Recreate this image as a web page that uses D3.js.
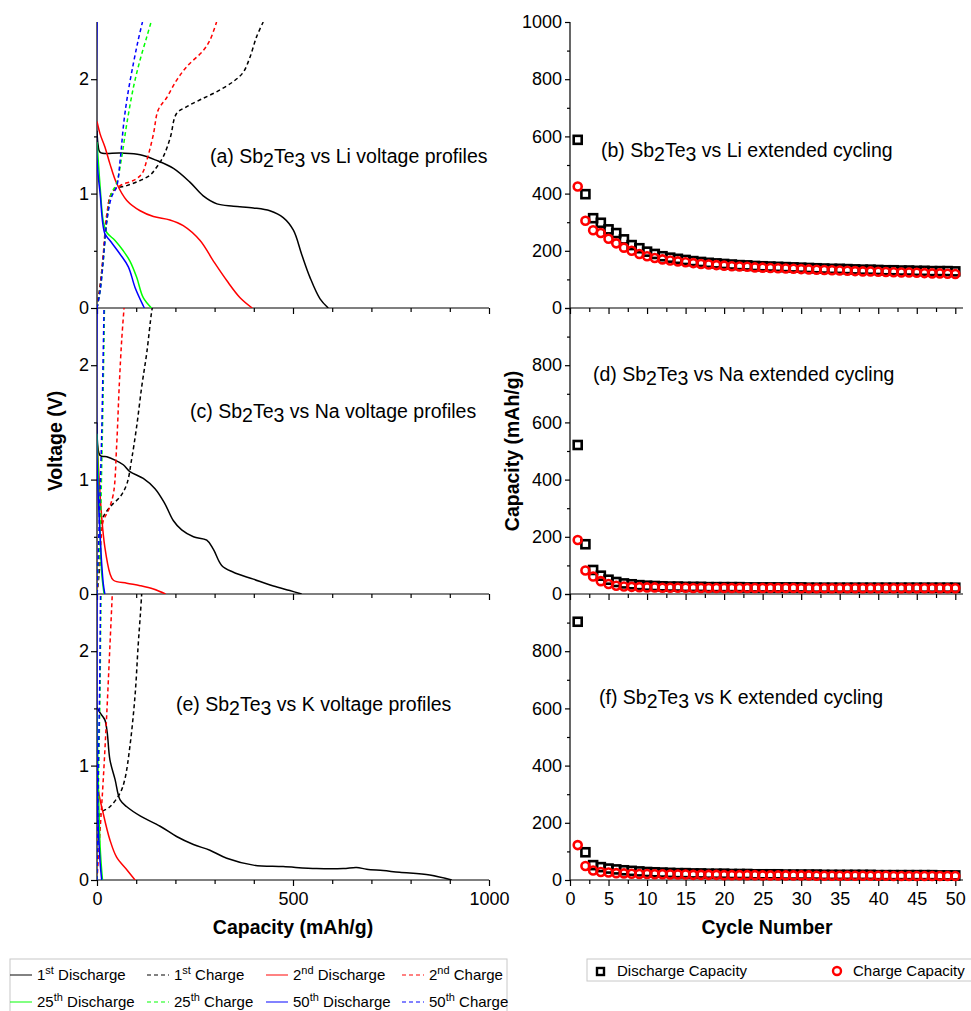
<!DOCTYPE html>
<html>
<head>
<meta charset="utf-8">
<title>Sb2Te3 voltage profiles and cycling</title>
<script src="https://d3js.org/d3.v7.min.js"></script>
<style>
  body { margin: 0; background: #fff; }
  svg { font-family: "Liberation Sans", Arial, sans-serif; }
  .tick text { font-size: 18px; fill: #000; }
  .axis path, .axis line { stroke: #000; stroke-width: 1.2; }
  .title { font-size: 19.5px; font-weight: bold; }
  .note { font-size: 19.5px; }
  .leg { font-size: 15px; }
</style>
</head>
<body>
<svg id="chart" width="971" height="1011"></svg>
<script>
// ---- voltage profiles: [capacity mAh/g, voltage V] ----
// Li
const li1Dis = [[0,1.55],[3,1.42],[8,1.36],[59,1.355],[110,1.34],[152,1.29],[195,1.22],[237,1.1],[271,0.98],[306,0.91],[348,0.89],[399,0.875],[441,0.85],[475,0.79],[501,0.68],[522,0.47],[543,0.27],[569,0.08],[590,0]];
const li1Chg = [[0,0],[8,0.2],[16,0.45],[25,0.78],[33,0.97],[46,1.04],[76,1.07],[110,1.115],[135,1.16],[152,1.23],[170,1.33],[187,1.49],[203,1.7],[229,1.76],[263,1.82],[305,1.89],[348,1.98],[373,2.06],[390,2.19],[407,2.37],[424,2.5]];
const li2Dis = [[0,1.63],[8,1.52],[20,1.41],[33,1.26],[50,1.09],[76,0.94],[110,0.85],[144,0.8],[186,0.77],[220,0.72],[263,0.59],[297,0.41],[331,0.24],[365,0.09],[396,0]];
const li2Chg = [[0,0],[8,0.18],[16,0.47],[25,0.82],[37,1.0],[59,1.07],[93,1.115],[114,1.17],[127,1.29],[144,1.52],[156,1.73],[178,1.84],[203,1.99],[229,2.11],[271,2.25],[288,2.34],[305,2.5]];
const li25Dis = [[0,1.45],[8,1.06],[16,0.76],[25,0.66],[46,0.59],[67,0.5],[84,0.41],[101,0.27],[118,0.09],[139,0]];
const li25Chg = [[0,0],[8,0.15],[16,0.41],[25,0.76],[37,1.0],[50,1.09],[63,1.32],[76,1.61],[93,1.93],[110,2.17],[127,2.37],[138,2.5]];
const li50Dis = [[0,2.5],[0,1.3],[8,1.0],[20,0.65],[33,0.59],[59,0.47],[80,0.36],[97,0.18],[118,0.02],[121,0]];
const li50Chg = [[0,0],[8,0.15],[16,0.42],[25,0.76],[37,0.97],[50,1.06],[59,1.29],[69,1.64],[80,1.9],[93,2.14],[105,2.34],[116,2.5]];
// Na
const na1Dis = [[0,1.5],[8,1.21],[25,1.2],[46,1.17],[67,1.13],[84,1.07],[118,1.01],[148,0.92],[173,0.79],[195,0.64],[216,0.56],[246,0.5],[280,0.47],[297,0.39],[318,0.25],[348,0.19],[399,0.13],[450,0.07],[492,0.03],[522,0]];
const na1Chg = [[0,0],[8,0.29],[12,0.64],[33,0.76],[59,0.85],[76,0.96],[88,1.17],[101,1.46],[114,1.81],[127,2.11],[139,2.46],[141,2.5]];
const na2Dis = [[0,1.34],[12,0.67],[20,0.41],[33,0.18],[42,0.12],[76,0.094],[110,0.073],[144,0.044],[175,0]];
const na2Chg = [[0,0],[8,0.35],[16,0.64],[29,0.73],[42,0.88],[50,1.29],[57,1.84],[63,2.22],[69,2.5]];
const na25Dis = [[0,1.4],[8,0.53],[12,0.18],[18,0]];
const na25Chg = [[0,0],[8,0.53],[12,1.11],[16,1.84],[19,2.5]];
const na50Dis = [[0,2.5],[0,1.2],[8,0.5],[16,0.09],[20,0]];
const na50Chg = [[0,0],[6,0.67],[12,1.4],[16,2.13],[18,2.5]];
// K
const k1Dis = [[0,1.51],[8,1.46],[20,1.4],[26,1.29],[33,1.05],[46,0.88],[59,0.7],[76,0.64],[110,0.56],[161,0.47],[203,0.38],[246,0.31],[288,0.26],[331,0.19],[399,0.13],[475,0.117],[560,0.1],[628,0.1],[662,0.11],[688,0.094],[730,0.082],[772,0.067],[849,0.044],[905,0]];
const k1Chg = [[0,0],[3,0.41],[8,0.58],[33,0.64],[59,0.76],[71,0.88],[84,1.17],[97,1.61],[105,2.05],[111,2.34],[114,2.5]];
const k2Dis = [[0,1.4],[2,0.82],[16,0.58],[33,0.35],[50,0.2],[76,0.09],[97,0]];
const k2Chg = [[0,0],[8,0.44],[16,0.88],[25,1.46],[33,2.05],[39,2.5]];
const k25Dis = [[0,1.45],[8,0.29],[14,0]];
const k25Chg = [[0,0],[4,0.88],[8,1.75],[10,2.5]];
const k50Dis = [[0,2.5],[2,0.58],[8,0.15],[12,0]];
const k50Chg = [[0,0],[3,0.88],[7,1.75],[9,2.5]];

const profileLabels = [["1","st"," Discharge"],["1","st"," Charge"],["2","nd"," Discharge"],["2","nd"," Charge"],
                       ["25","th"," Discharge"],["25","th"," Charge"],["50","th"," Discharge"],["50","th"," Charge"]];
const profileColors = ["#000000","#000000","#ff0000","#ff0000","#00ff00","#00ff00","#0000ff","#0000ff"];

// ---- extended cycling: capacity (mAh/g) for cycles 1..50 ----
const liDischarge = [588,398,314,298,275,262,240,220,209,197,189,181,176,172,168,164,161,158,156,154,152,150,149,147,146,145,144,143,142,141,140,139,138,137,137,136,135,134,134,133,132,132,131,131,130,130,129,129,129,128];
const liCharge = [425,305,272,262,242,226,211,200,189,181,175,170,166,163,160,157,154,152,150,148,146,145,144,142,141,140,139,138,137,136,135,134,133,132,131,130,129,128,128,127,126,125,124,124,123,122,121,121,120,119];
const naDischarge = [521,174,84,64,50,42,37,34,31,29,28,27,26,26,25,25,25,24,24,24,24,24,23,23,23,23,23,23,23,23,22,22,22,22,22,22,22,22,22,22,22,22,22,22,22,22,22,22,22,22];
const naCharge = [189,82,61,45,35,29,26,25,24,23,23,22,22,22,22,21,21,21,21,21,21,21,21,21,21,21,21,21,21,20,20,20,20,20,20,20,20,20,20,20,20,20,20,20,20,20,20,20,20,20];
const kDischarge = [903,97,52,45,40,37,34,32,30,28,27,26,25,24,24,23,23,22,22,22,21,21,21,20,20,20,20,19,19,19,19,19,18,18,18,18,18,18,18,17,17,17,17,17,17,17,17,16,16,16];
const kCharge = [122,49,33,28,26,24,23,22,21,21,20,20,19,19,19,18,18,18,18,17,17,17,17,17,16,16,16,16,16,16,16,15,15,15,15,15,15,15,15,15,15,14,14,14,14,14,14,14,14,14];

const leftNotes = ["(a) ", "(c) ", "(e) "];
const leftIons = [" vs Li voltage profiles", " vs Na voltage profiles", " vs K voltage profiles"];
const rightNotes = ["(b) ", "(d) ", "(f) "];
const rightIons = [" vs Li extended cycling", " vs Na extended cycling", " vs K extended cycling"];

const svg = d3.select("#chart");

// layout
const panelTops = [22, 308, 594];
const panelH = 286;
const xCap = d3.scaleLinear().domain([0, 1000]).range([97, 489]);
const xCyc = d3.scaleLinear().domain([0, 51]).range([570, 963]);

const profiles = [
  [li1Dis, li1Chg, li2Dis, li2Chg, li25Dis, li25Chg, li50Dis, li50Chg],
  [na1Dis, na1Chg, na2Dis, na2Chg, na25Dis, na25Chg, na50Dis, na50Chg],
  [k1Dis, k1Chg, k2Dis, k2Chg, k25Dis, k25Chg, k50Dis, k50Chg]
];
const cycling = [[liDischarge, liCharge], [naDischarge, naCharge], [kDischarge, kCharge]];

// "Sb2Te3" with lowered digits
function sbte(x, y, pre, post) {
  const tx = svg.append("text").attr("class", "note").attr("x", x).attr("y", y);
  tx.append("tspan").text(pre + "Sb");
  tx.append("tspan").attr("dy", 4).text("2");
  tx.append("tspan").attr("dy", -4).text("Te");
  tx.append("tspan").attr("dy", 4).text("3");
  tx.append("tspan").attr("dy", -4).text(post);
}

const leftNotePos = [[210, 163], [190, 418], [176, 711]];
const rightNotePos = [[601, 157], [593, 381], [599, 704]];

profiles.forEach((set, i) => {
  const top = panelTops[i];
  const yV = d3.scaleLinear().domain([0, 2.5]).range([top + panelH, top]);
  const last = i === 2;

  svg.append("clipPath").attr("id", "clipL" + i)
    .append("rect").attr("x", xCap(0)).attr("y", top).attr("width", xCap(1000) - xCap(0)).attr("height", panelH);

  const line = d3.line().x(d => xCap(d[0])).y(d => yV(d[1])).curve(d3.curveCatmullRom.alpha(0.5));

  // x axis
  const gx = svg.append("g").attr("class", "axis")
    .attr("transform", `translate(0,${top + panelH})`)
    .call(d3.axisBottom(xCap).tickValues(d3.range(0, 1001, 100))
      .tickSize(5).tickFormat(d => (last && d % 500 === 0) ? d : ""));
  gx.select(".domain").attr("d", `M${xCap(0)},0H${xCap(1000)}`);
  gx.selectAll(".tick line").attr("y2", d => d % 500 === 0 ? 6 : 4);
  gx.selectAll(".tick text").attr("dy", "0.95em");

  // y axis
  const gy = svg.append("g").attr("class", "axis")
    .attr("transform", `translate(${xCap(0)},0)`)
    .call(d3.axisLeft(yV).tickValues([0, 0.5, 1, 1.5, 2]).tickSize(5)
      .tickFormat(d => Number.isInteger(d) ? d : ""));
  gy.select(".domain").attr("d", `M0,${top}V${top + panelH}`);
  gy.selectAll(".tick line").attr("x2", d => Number.isInteger(d) ? -6 : -3);

  const g = svg.append("g").attr("clip-path", `url(#clipL${i})`);
  set.forEach((pts, j) => {
    g.append("path").attr("d", line(pts)).attr("fill", "none")
      .attr("stroke", profileColors[j]).attr("stroke-width", 1.5)
      .attr("stroke-dasharray", j % 2 === 1 ? "4,3" : null);
  });

  sbte(leftNotePos[i][0], leftNotePos[i][1], leftNotes[i], leftIons[i]);
});

cycling.forEach((pair, i) => {
  const top = panelTops[i];
  const yC = d3.scaleLinear().domain([0, 1000]).range([top + panelH, top]);
  const last = i === 2;

  const gx = svg.append("g").attr("class", "axis")
    .attr("transform", `translate(0,${top + panelH})`)
    .call(d3.axisBottom(xCyc).tickValues(d3.range(0, 51, 2.5)).tickSize(5)
      .tickFormat(d => (last && d % 5 === 0) ? d : ""));
  gx.select(".domain").attr("d", `M${xCyc(0)},0H${xCyc(51)}`);
  gx.selectAll(".tick line").attr("y2", d => d % 5 === 0 ? 6 : 4);
  gx.selectAll(".tick text").attr("dy", "0.95em");

  const gy = svg.append("g").attr("class", "axis")
    .attr("transform", `translate(${xCyc(0)},0)`)
    .call(d3.axisLeft(yC).tickValues(d3.range(0, 1001, 100)).tickSize(5)
      .tickFormat(d => (d % 200 === 0 && (i === 0 || d < 1000)) ? d : ""));
  gy.select(".domain").attr("d", `M0,${top}V${top + panelH}`);
  gy.selectAll(".tick line").attr("x2", d => d % 200 === 0 ? -5 : -3);

  const [dis, chg] = pair;
  svg.append("g").selectAll("rect").data(dis).join("rect")
    .attr("x", (d, k) => xCyc(k + 1) - 4).attr("y", d => yC(d) - 4)
    .attr("width", 8).attr("height", 8)
    .attr("fill", "none").attr("stroke", "#000").attr("stroke-width", 2.6);
  svg.append("g").selectAll("circle").data(chg).join("circle")
    .attr("cx", (d, k) => xCyc(k + 1)).attr("cy", d => yC(d)).attr("r", 4)
    .attr("fill", "none").attr("stroke", "#ff0000").attr("stroke-width", 2.6);

  sbte(rightNotePos[i][0], rightNotePos[i][1], rightNotes[i], rightIons[i]);
});

// axis titles
svg.append("text").attr("class", "title").attr("x", 293).attr("y", 934)
  .attr("text-anchor", "middle").text("Capacity (mAh/g)");
svg.append("text").attr("class", "title").attr("x", 767).attr("y", 934)
  .attr("text-anchor", "middle").text("Cycle Number");
svg.append("text").attr("class", "title").attr("transform", "translate(62,441) rotate(-90)")
  .attr("text-anchor", "middle").text("Voltage (V)");
svg.append("text").attr("class", "title").attr("transform", "translate(519,451) rotate(-90)")
  .attr("text-anchor", "middle").text("Capacity (mAh/g)");

// legend: voltage profiles
svg.append("rect").attr("x", 10).attr("y", 959).attr("width", 497).attr("height", 60)
  .attr("fill", "#fff").attr("stroke", "#c8c8c8");
const colX = [10, 147, 266, 402];
profileLabels.forEach((lab, j) => {
  const x = colX[j % 4];
  const y = 975 + Math.floor(j / 4) * 27;
  svg.append("line").attr("x1", x).attr("x2", x + 22).attr("y1", y).attr("y2", y)
    .attr("stroke", profileColors[j]).attr("stroke-width", 1.5).attr("opacity", 0.65)
    .attr("stroke-dasharray", j % 2 === 1 ? "4,3" : null);
  const t = svg.append("text").attr("class", "leg").attr("x", x + 27).attr("y", y + 5);
  t.append("tspan").text(lab[0]);
  t.append("tspan").attr("dy", -6).attr("font-size", "11px").text(lab[1]);
  t.append("tspan").attr("dy", 6).text(lab[2]);
});

// legend: cycling
svg.append("rect").attr("x", 587).attr("y", 959).attr("width", 400).attr("height", 22)
  .attr("fill", "#fff").attr("stroke", "#c8c8c8");
svg.append("rect").attr("x", 597).attr("y", 968).attr("width", 7).attr("height", 7)
  .attr("fill", "none").attr("stroke", "#000").attr("stroke-width", 2.4);
svg.append("text").attr("class", "leg").attr("x", 617).attr("y", 976).text("Discharge Capacity");
svg.append("circle").attr("cx", 837).attr("cy", 971).attr("r", 4)
  .attr("fill", "none").attr("stroke", "#ff0000").attr("stroke-width", 2.4);
svg.append("text").attr("class", "leg").attr("x", 853).attr("y", 976).text("Charge Capacity");
</script>
</body>
</html>
